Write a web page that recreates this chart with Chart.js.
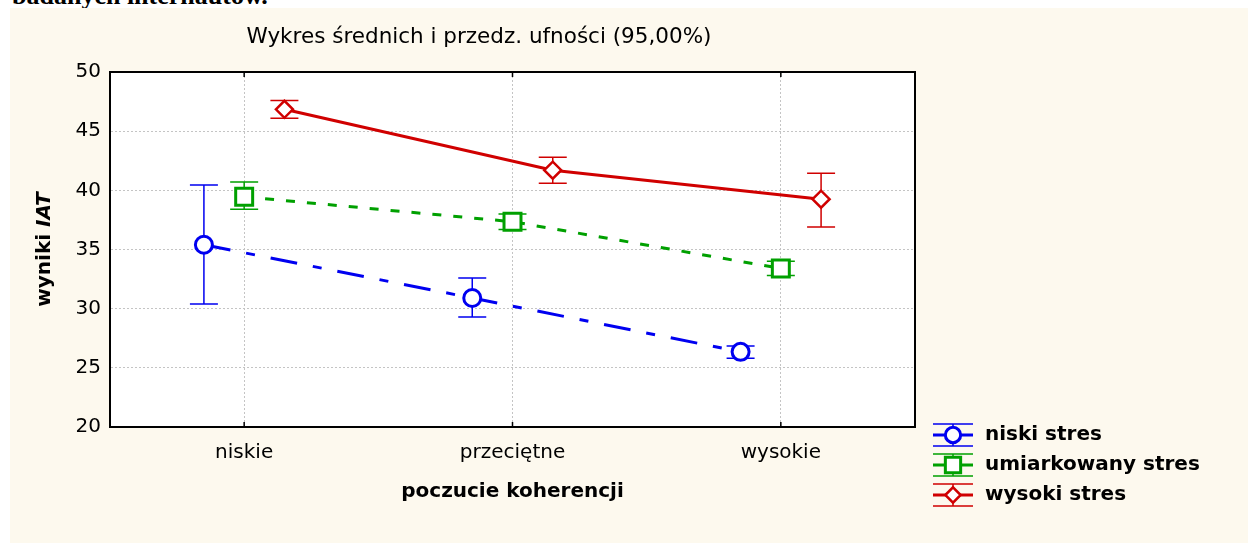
<!DOCTYPE html>
<html>
<head>
<meta charset="utf-8">
<script src="https://cdn.jsdelivr.net/npm/chart.js@4"></script>
<style>
  html, body { margin: 0; padding: 0; background: #fff; width: 1248px; height: 543px; overflow: hidden; }
  #naglowek { position: absolute; left: 12px; top: -17px; font: bold 26px "Liberation Serif", serif; line-height: 26px; color: #000; white-space: nowrap; }
  #wykres { position: absolute; left: 10px; top: 8px; background: #fdf9ee; }
</style>
</head>
<body>
<div id="naglowek">badanych internautów.</div>
<canvas id="wykres" width="1238" height="535"></canvas>
<script>
const kategorie = ['niskie', 'przeciętne', 'wysokie'];
const nazwySerii = ['niski stres', 'umiarkowany stres', 'wysoki stres'];

const niskiSrednia = [35.4, 30.9, 26.35];
const niskiDol = [30.4, 29.3, 25.8];
const niskiGora = [40.45, 32.6, 26.85];

const umiarkSrednia = [39.45, 37.35, 33.4];
const umiarkDol = [38.4, 36.7, 32.8];
const umiarkGora = [40.7, 38.0, 34.0];

const wysokiSrednia = [46.85, 41.7, 39.25];
const wysokiDol = [46.1, 40.6, 36.9];
const wysokiGora = [47.6, 42.8, 41.45];

const osY = { min: 20, max: 50, krok: 5 };

const tytul = 'Wykres średnich i przedz. ufności (95,00%)';
const tytulX = 'poczucie koherencji';

const czcionka = '"DejaVu Sans", Arial, sans-serif';

// wygląd serii (przesunięcie w obrębie kategorii, kolor, styl)
const serie = [
    { nazwa: nazwySerii[0], srednia: niskiSrednia, dol: niskiDol, gora: niskiGora,
      przesuniecie: -0.15, kolor: '#0000f0', dash: [27, 16, 9, 16], znak: 'circle', r: 8.5, grubosc: 3 },
    { nazwa: nazwySerii[1], srednia: umiarkSrednia, dol: umiarkDol, gora: umiarkGora,
      przesuniecie: 0, kolor: '#00a000', dash: [9, 12], znak: 'rect', r: 12, grubosc: 3 },
    { nazwa: nazwySerii[2], srednia: wysokiSrednia, dol: wysokiDol, gora: wysokiGora,
      przesuniecie: 0.15, kolor: '#d00000', dash: [], znak: 'rectRot', r: 8.5, grubosc: 2.5 }
];

const wykresPlugin = {
    id: 'wykresPlugin',
    beforeDraw(chart) {
        const { ctx, chartArea: a } = chart;
        ctx.save();
        ctx.fillStyle = '#fff';
        ctx.fillRect(a.left, a.top, a.right - a.left, a.bottom - a.top);
        ctx.restore();
    },
    beforeDatasetsDraw(chart) {
        // przedziały ufności
        const { ctx, scales: { x, y } } = chart;
        ctx.save();
        ctx.lineWidth = 1.5;
        serie.forEach(s => {
            ctx.strokeStyle = s.kolor;
            s.srednia.forEach((v, i) => {
                const px = x.getPixelForValue(i + s.przesuniecie);
                const y1 = y.getPixelForValue(s.gora[i]);
                const y2 = y.getPixelForValue(s.dol[i]);
                ctx.beginPath();
                ctx.moveTo(px, y1); ctx.lineTo(px, y2);
                ctx.moveTo(px - 14, y1); ctx.lineTo(px + 14, y1);
                ctx.moveTo(px - 14, y2); ctx.lineTo(px + 14, y2);
                ctx.stroke();
            });
        });
        ctx.restore();
    },
    afterDraw(chart) {
        const { ctx, chartArea: a, scales: { x } } = chart;
        ctx.save();

        // ramka wykresu
        ctx.strokeStyle = '#000';
        ctx.lineWidth = 2;
        ctx.strokeRect(a.left, a.top, a.right - a.left, a.bottom - a.top);
        ctx.lineWidth = 1.5;
        kategorie.forEach((k, i) => {
            const px = x.getPixelForValue(i);
            ctx.beginPath();
            ctx.moveTo(px, a.bottom); ctx.lineTo(px, a.bottom - 5);
            ctx.moveTo(px, a.top); ctx.lineTo(px, a.top + 5);
            ctx.stroke();
        });

        ctx.fillStyle = '#000';
        ctx.textBaseline = 'middle';

        // tytuł
        ctx.font = '21.5px ' + czcionka;
        ctx.textAlign = 'center';
        ctx.fillText(tytul, 469, 29);

        // tytuł osi X
        ctx.font = 'bold 20px ' + czcionka;
        ctx.fillText(tytulX, (a.left + a.right) / 2, 484);

        // tytuł osi Y: "wyniki IAT" z kursywą
        ctx.translate(35, (a.top + a.bottom) / 2);
        ctx.rotate(-Math.PI / 2);
        ctx.font = 'bold 20px ' + czcionka;
        const cz1 = 'wyniki ';
        const w1 = ctx.measureText(cz1).width;
        ctx.font = 'italic bold 20px ' + czcionka;
        const w2 = ctx.measureText('IAT').width;
        ctx.textAlign = 'left';
        ctx.font = 'bold 20px ' + czcionka;
        ctx.fillText(cz1, -(w1 + w2) / 2, 0);
        ctx.font = 'italic bold 20px ' + czcionka;
        ctx.fillText('IAT', -(w1 + w2) / 2 + w1, 0);
        ctx.setTransform(1, 0, 0, 1, 0, 0);

        // legenda
        serie.forEach((s, i) => {
            const lx = 943, ly = 427 + i * 30;
            ctx.strokeStyle = s.kolor;
            ctx.lineWidth = 1.5;
            ctx.beginPath();
            ctx.moveTo(lx - 20, ly - 11); ctx.lineTo(lx + 20, ly - 11);
            ctx.moveTo(lx - 20, ly + 11); ctx.lineTo(lx + 20, ly + 11);
            ctx.moveTo(lx, ly - 11); ctx.lineTo(lx, ly + 11);
            ctx.stroke();
            ctx.lineWidth = 3;
            ctx.beginPath();
            ctx.moveTo(lx - 20, ly); ctx.lineTo(lx + 20, ly);
            ctx.stroke();
            ctx.fillStyle = '#fff';
            ctx.lineWidth = s.grubosc;
            Chart.helpers.drawPoint(ctx, { pointStyle: s.znak, radius: s.r * 0.9, borderWidth: s.grubosc, rotation: 0 }, lx, ly);
            ctx.fillStyle = '#000';
            ctx.font = 'bold 20px ' + czcionka;
            ctx.textAlign = 'left';
            ctx.fillText(s.nazwa, 975, ly);
        });

        ctx.restore();
    }
};

const ctx = document.getElementById('wykres').getContext('2d');
new Chart(ctx, {
    type: 'line',
    data: {
        datasets: serie.map(s => ({
            label: s.nazwa,
            data: s.srednia.map((v, i) => ({ x: i + s.przesuniecie, y: v })),
            borderColor: s.kolor,
            borderWidth: 3,
            borderDash: s.dash,
            pointStyle: s.znak,
            pointRadius: s.r,
            pointBorderWidth: s.grubosc,
            pointBorderColor: s.kolor,
            pointBackgroundColor: '#fff',
            tension: 0,
            fill: false
        }))
    },
    options: {
        responsive: false,
        animation: false,
        layout: { padding: { left: 40, right: 333, top: 64, bottom: 56 } },
        scales: {
            x: {
                type: 'linear',
                min: -0.5,
                max: 2.5,
                afterBuildTicks: s => { s.ticks = kategorie.map((k, i) => ({ value: i })); },
                afterFit: s => { s.height = 60; },
                ticks: {
                    callback: v => kategorie[v] ?? '',
                    autoSkip: false,
                    maxRotation: 0,
                    padding: 14,
                    color: '#000',
                    font: { family: czcionka, size: 20 }
                },
                grid: { color: '#c4c4c4', lineWidth: 1, drawTicks: false },
                border: { display: true, color: '#000', width: 2, dash: [2, 2] }
            },
            y: {
                min: osY.min,
                max: osY.max,
                afterFit: s => { s.width = 60; },
                ticks: {
                    stepSize: osY.krok,
                    padding: 9,
                    color: '#000',
                    font: { family: czcionka, size: 20 }
                },
                grid: { color: '#c4c4c4', lineWidth: 1, drawTicks: false },
                border: { display: true, color: '#000', width: 2, dash: [2, 2] }
            }
        },
        plugins: {
            legend: { display: false },
            tooltip: { enabled: false },
            title: { display: false }
        }
    },
    plugins: [wykresPlugin]
});
</script>
</body>
</html>
